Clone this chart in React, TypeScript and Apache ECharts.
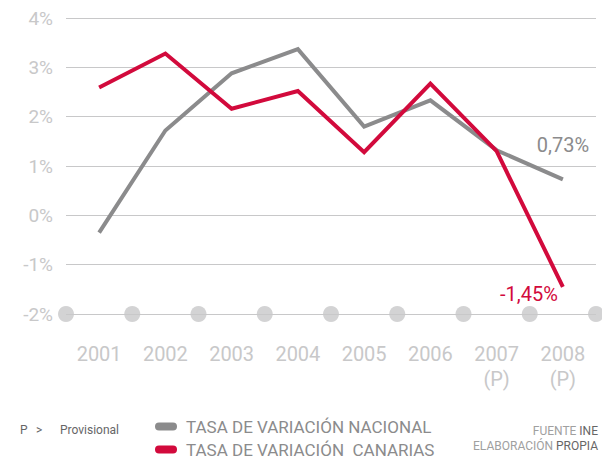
import React, { useEffect, useRef } from "react";
import * as echarts from "echarts";

const categories = ["2001", "2002", "2003", "2004", "2005", "2006", "2007", "2008"];
const tickLabels = ["2001", "2002", "2003", "2004", "2005", "2006", "2007\n(P)", "2008\n(P)"];
const nacional = [-0.35, 1.72, 2.88, 3.37, 1.8, 2.33, 1.32, 0.73];
const canarias = [2.59, 3.28, 2.16, 2.52, 1.28, 2.67, 1.3, -1.45];
const boundaryDots = [0, 1, 2, 3, 4, 5, 6, 7, 8];
const seriesNames = ["TASA DE VARIACIÓN NACIONAL", "TASA DE VARIACIÓN  CANARIAS"];

const GRAY = "#8b8b8c";
const RED = "#d20a3c";
const LIGHT = "#c8c8c9";
const FONT = "Roboto, 'Noto Sans', sans-serif";

const fmt = (v: number) => v.toFixed(2).replace(".", ",") + "%";

export default function App() {
  const ref = useRef<HTMLDivElement>(null);
  useEffect(() => {
    if (!ref.current) return;
    const chart = echarts.init(ref.current, undefined, { renderer: "svg" });
    const lastLabel = (arr: number[], color: string, label: any) =>
      arr.map((v, i) =>
        i === arr.length - 1
          ? { value: v, label: { show: true, color, fontSize: 20, fontFamily: FONT, formatter: () => fmt(v), ...label } }
          : v
      );
    const legendBase = {
      orient: "horizontal",
      left: 155,
      padding: 0,
      itemWidth: 22,
      itemHeight: 8,
      icon: "path://M4,0 H18 A4,4 0 0 1 18,8 H4 A4,4 0 0 1 4,0 Z",
      textStyle: { color: GRAY, fontSize: 17, lineHeight: 17, fontFamily: FONT, padding: [0, 0, 0, 4] },
    };
    chart.setOption({
      animation: false,
      textStyle: { fontFamily: FONT },
      grid: { left: 66, right: 6, top: 18, bottom: 144 },
      xAxis: [
        {
          type: "category",
          data: categories,
          boundaryGap: true,
          axisLine: { show: false },
          axisTick: { show: false },
          axisLabel: {
            color: LIGHT,
            fontSize: 20,
            margin: 27,
            lineHeight: 25,
            fontFamily: FONT,
            formatter: (_: string, i: number) => tickLabels[i],
          },
        },
        { type: "value", min: 0, max: 8, show: false },
      ],
      yAxis: {
        type: "value",
        min: -2,
        max: 4,
        interval: 1,
        axisLine: { show: false },
        axisTick: { show: false },
        splitLine: { lineStyle: { color: LIGHT, width: 1 } },
        axisLabel: { color: LIGHT, fontSize: 19, margin: 13, fontFamily: FONT, formatter: (v: number) => v + "%" },
      },
      legend: [
        { ...legendBase, top: 418, data: [seriesNames[0]] },
        { ...legendBase, top: 441, data: [seriesNames[1]] },
      ],
      series: [
        {
          type: "scatter",
          xAxisIndex: 1,
          data: boundaryDots.map((x) => [x, -2]),
          symbolSize: 16,
          itemStyle: { color: LIGHT },
          silent: true,
        },
        {
          name: seriesNames[0],
          type: "line",
          data: lastLabel(nacional, GRAY, { position: "top", distance: 24 }),
          showSymbol: true,
          symbol: "circle",
          symbolSize: 0,
          lineStyle: { color: GRAY, width: 4, join: "miter" },
          itemStyle: { color: GRAY },
          z: 3,
        },
        {
          name: seriesNames[1],
          type: "line",
          data: lastLabel(canarias, RED, { position: "left", distance: 5, offset: [0, 7] }),
          showSymbol: true,
          symbol: "circle",
          symbolSize: 0,
          lineStyle: { color: RED, width: 4, join: "miter" },
          itemStyle: { color: RED },
          z: 4,
        },
      ],
      graphic: [
        { type: "text", left: 20, top: 424, style: { text: "P", fill: "#666", fontSize: 12, fontFamily: FONT } },
        { type: "text", left: 36, top: 424, style: { text: ">", fill: "#666", fontSize: 12, fontFamily: FONT } },
        { type: "text", left: 60, top: 424, style: { text: "Provisional", fill: "#666", fontSize: 12, fontFamily: FONT } },
        {
          type: "text",
          right: 4,
          top: 425,
          style: {
            text: "{a|FUENTE }{b|INE}",
            align: "right",
            rich: {
              a: { fill: "#a0a0a0", fontSize: 12, fontFamily: FONT },
              b: { fill: "#666", fontSize: 12, fontFamily: FONT },
            },
          },
        },
        {
          type: "text",
          right: 4,
          top: 440,
          style: {
            text: "{a|ELABORACIÓN }{b|PROPIA}",
            align: "right",
            rich: {
              a: { fill: "#a0a0a0", fontSize: 12, fontFamily: FONT },
              b: { fill: "#666", fontSize: 12, fontFamily: FONT },
            },
          },
        },
      ],
    });
    return () => chart.dispose();
  }, []);
  return <div ref={ref} style={{ width: 602, height: 458, position: "absolute", left: 0, top: 0 }} />;
}
